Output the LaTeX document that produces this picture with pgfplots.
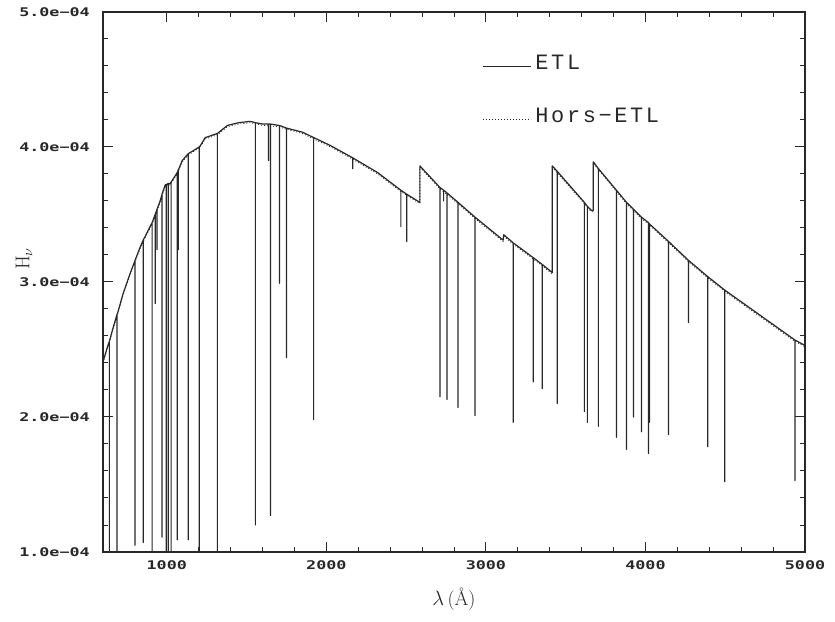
\documentclass[border=0pt]{standalone}
\usepackage{fontspec}
\usepackage{pgfplots}
\pgfplotsset{compat=1.18}
\newfontfamily\tickfont[FakeStretch=1.4]{DejaVu Sans Mono}
\newfontfamily\legfont[LetterSpace=12]{Liberation Mono}
\definecolor{ink}{RGB}{40,40,40}
\begin{document}
\begin{tikzpicture}
\begin{axis}[
  scale only axis,
  width=702bp, height=540bp,
  xmin=600, xmax=5000, ymin=1, ymax=5,
  xtick={1000,2000,3000,4000,5000},
  xticklabels={1000,2000,3000,4000,5000},
  ytick={1,2,3,4,5},
  yticklabels={1.0e−04,2.0e−04,3.0e−04,4.0e−04,5.0e−04},
  minor x tick num=4, minor y tick num=4,
  major tick length=10bp, minor tick length=5bp,
  tick align=inside, xtick pos=both, ytick pos=both,
  axis line style={ink, line width=1.3bp},
  every tick/.style={ink, line width=1bp},
  /pgf/number format/assume math mode=true,
  xticklabel style={font=\tickfont\bfseries\fontsize{12}{13}\selectfont, text=ink, inner sep=0pt, yshift=-8bp},
  yticklabel style={font=\tickfont\bfseries\fontsize{12}{13}\selectfont, text=ink, inner sep=0pt, xshift=-13bp},
  xlabel={\fontsize{20}{22}\selectfont$\lambda$\,(Å)},
  xlabel style={text=ink, at={(rel axis cs:0.5,0)}, anchor=center, yshift=-47bp},
  ylabel={\fontsize{20}{22}\selectfont$\mathrm{H}_{\nu}$},
  ylabel style={text=ink, at={(rel axis cs:0,0.543)}, anchor=center, yshift=79bp},
  clip=true,
  legend style={at={(rel axis cs:0.54,0.925)}, anchor=north west, draw=none, fill=none,
    font=\legfont\fontsize{22}{24}\selectfont, text=ink, row sep=33bp, inner sep=0pt,
    column sep=2bp, cells={anchor=west}},
  legend image code/.code={\draw[#1] (0bp,-0.35em) -- (48bp,-0.35em);},
]
\addplot[ink, line width=1.2bp, line join=round] coordinates {
(600,2.41) (631,2.53) (640,2.56) (640,0.5) (640,2.56) (663,2.66) (688,2.76) (688,0.5) (688,2.76) (694,2.78) (725,2.91) (769,3.06)
(801,3.16) (801,1.05) (801,3.16) (830,3.25) (852,3.31) (852,1.07) (852,3.31) (908,3.44) (908,0.5) (908,3.44)
(927,3.50) (927,2.84) (927,3.50) (939,3.54) (939,3.24) (939,3.54) (958,3.60) (970,3.65) (970,1.11) (970,3.65)
(990,3.72) (996,3.72) (996,0.5) (996,3.72) (1009,3.73) (1009,0.5) (1009,3.73) (1021,3.73) (1027,3.74) (1027,0.5) (1027,3.74)
(1065,3.81) (1065,1.09) (1065,3.81) (1072,3.83) (1072,3.24) (1072,3.83) (1097,3.90) (1134,3.95) (1134,1.09) (1134,3.95)
(1203,4.00) (1203,0.5) (1203,4.00) (1210,4.01) (1241,4.07) (1317,4.10) (1317,0.5) (1317,4.10) (1380,4.16) (1450,4.18)
(1524,4.19) (1555,4.18) (1555,1.2) (1555,4.18) (1600,4.17) (1637,4.17) (1637,3.90) (1637,4.17) (1650,4.17) (1650,1.27) (1650,4.17)
(1700,4.16) (1706,4.16) (1706,2.99) (1706,4.16) (1750,4.14) (1750,2.44) (1750,4.14) (1850,4.11) (1920,4.07) (1920,1.98) (1920,4.07)
(2027,4.01) (2165,3.92) (2165,3.84) (2165,3.92) (2322,3.81) (2467,3.68) (2467,3.41) (2467,3.68) (2504,3.65) (2504,3.30) (2504,3.65)
(2586,3.59) (2586,3.86) (2712,3.70) (2712,2.15) (2712,3.70) (2735,3.68) (2735,3.60) (2735,3.68) (2756,3.66) (2756,2.13) (2756,3.66)
(2825,3.59) (2825,2.07) (2825,3.59) (2932,3.48) (2932,2.01) (2932,3.48) (3108,3.31) (3112,3.35) (3171,3.29) (3171,1.96) (3171,3.29)
(3297,3.18) (3297,2.26) (3297,3.18) (3353,3.13) (3353,2.21) (3353,3.13) (3416,3.07) (3416,3.86) (3447,3.82) (3447,2.10) (3447,3.82)
(3617,3.59) (3617,2.04) (3617,3.59) (3636,3.56) (3636,1.96) (3636,3.56) (3661,3.53) (3673,3.53) (3673,3.89)
(3705,3.84) (3705,1.93) (3705,3.84) (3818,3.68) (3818,1.85) (3818,3.68) (3881,3.59) (3881,1.76) (3881,3.59)
(3925,3.54) (3925,2.00) (3925,3.54) (3975,3.48) (3975,1.89) (3975,3.48) (4019,3.44) (4019,1.73) (4019,3.44)
(4025,3.43) (4025,1.96) (4025,3.43) (4145,3.30) (4145,1.87) (4145,3.30) (4270,3.16) (4270,2.70) (4270,3.16)
(4390,3.04) (4390,1.78) (4390,3.04) (4497,2.94) (4497,1.52) (4497,2.94) (4711,2.76) (4937,2.57) (4937,1.53) (4937,2.57) (5000,2.53)
};
\addlegendentry{ETL}
\addplot[ink, line width=0.8bp, dash pattern=on 1bp off 2bp] coordinates {
(600,2.40) (631,2.52) (663,2.65) (694,2.77) (725,2.90) (769,3.05) (801,3.15) (830,3.24) (852,3.30) (908,3.43) (958,3.59)
(990,3.71) (1021,3.72) (1065,3.80) (1097,3.89) (1134,3.94) (1210,4.00) (1241,4.06) (1317,4.09) (1380,4.15) (1450,4.17)
(1524,4.18) (1600,4.16) (1700,4.15) (1756,4.13) (1850,4.10) (1920,4.06) (2027,4.00) (2165,3.91) (2322,3.80) (2467,3.67)
(2586,3.58) (2586,3.85) (2712,3.69) (2825,3.58) (2932,3.47) (3108,3.30) (3112,3.34) (3171,3.28) (3297,3.17) (3353,3.12)
(3416,3.06) (3416,3.85) (3617,3.58) (3661,3.52) (3673,3.52) (3673,3.88) (3818,3.67) (3881,3.58) (3975,3.47) (4019,3.43)
(4145,3.29) (4270,3.15) (4390,3.03) (4497,2.93) (4711,2.75) (4937,2.56) (5000,2.52)
};
\addlegendentry{Hors−ETL}
\end{axis}
\pgfresetboundingbox
\path[use as bounding box] (-103bp,-70bp) rectangle (732bp,552bp);
\end{tikzpicture}
\end{document}
